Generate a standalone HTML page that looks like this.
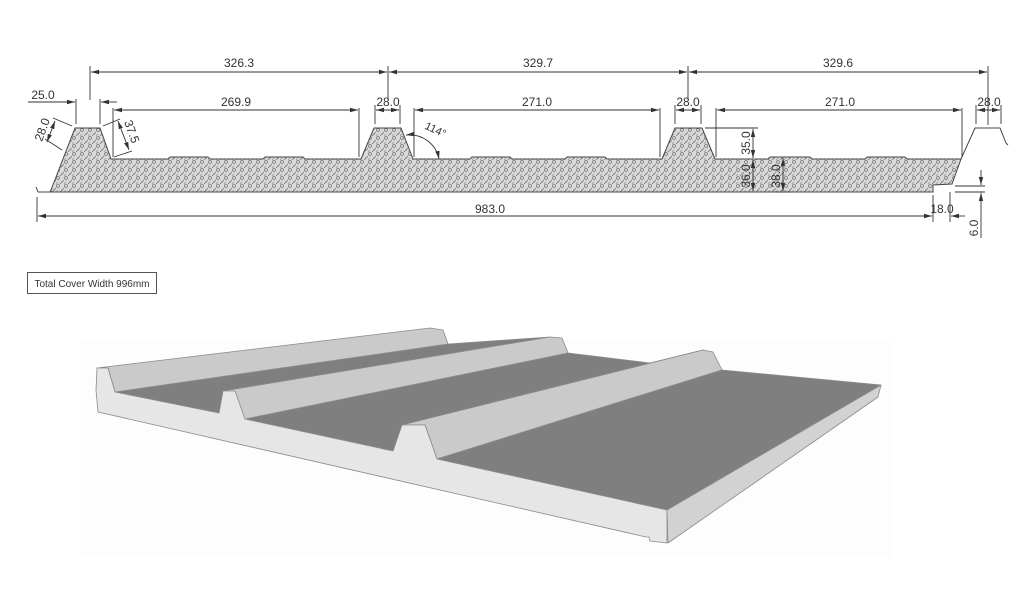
<!DOCTYPE html>
<html><head><meta charset="utf-8"><style>
html,body{margin:0;padding:0;background:#fff;}
svg{display:block}
text{font-family:"Liberation Sans",sans-serif;fill:#333;}
</style></head><body>
<svg width="1022" height="592" viewBox="0 0 1022 592" xmlns="http://www.w3.org/2000/svg">
<defs>
<pattern id="foam" width="8" height="8" patternUnits="userSpaceOnUse">
<rect width="8" height="8" fill="#dadada"/>
<circle cx="2" cy="2" r="1.5" fill="none" stroke="#777" stroke-width="0.8"/>
<line x1="4" y1="8" x2="8" y2="4" stroke="#777" stroke-width="0.8"/>
<line x1="0" y1="8" x2="2" y2="6" stroke="#888" stroke-width="0.6"/>
<circle cx="6" cy="6" r="0.7" fill="#888"/>
</pattern>
<marker id="a" markerWidth="8" markerHeight="6" refX="8" refY="3" orient="auto-start-reverse" markerUnits="userSpaceOnUse">
<path d="M0,0.8 L8,3 L0,5.2 Z" fill="#333"/></marker>
</defs>

<path d="M51,190 L75,128 L100,128 L111,159 L168,159 L170,157 L208,157 L210,159 L263,159 L265,157 L303,157 L305,159 L361,159 L374,128 L401,128 L413,159 L470,159 L472,157 L510,157 L512,159 L565,159 L567,157 L605,157 L607,159 L662,159 L675,128 L702,128 L715,159 L768,159 L770,157 L810,157 L812,159 L865,159 L867,157 L905,157 L907,159 L961,159 L952,184 L933,185 L933,192 L51,192 Z" fill="url(#foam)" stroke="#444" stroke-width="1"/>
<path d="M961,159 L975,128 L1000,128 L1006,143 L1008,145" fill="none" stroke="#444" stroke-width="1"/>
<path d="M36,187 L38,192 L50,192 L52,188" fill="none" stroke="#444" stroke-width="1"/>

<g stroke="#333" stroke-width="0.9" fill="none">
<line x1="90" y1="66" x2="90" y2="100"/><line x1="388" y1="66" x2="388" y2="100"/>
<line x1="688" y1="66" x2="688" y2="100"/><line x1="988" y1="66" x2="988" y2="125"/>
<line x1="91" y1="72" x2="387" y2="72" marker-start="url(#a)" marker-end="url(#a)"/>
<line x1="389" y1="72" x2="687" y2="72" marker-start="url(#a)" marker-end="url(#a)"/>
<line x1="689" y1="72" x2="987" y2="72" marker-start="url(#a)" marker-end="url(#a)"/>
<line x1="76" y1="99" x2="76" y2="124"/><line x1="100" y1="99" x2="100" y2="124"/>
<line x1="28" y1="102" x2="75" y2="102" marker-end="url(#a)"/>
<line x1="117" y1="102" x2="101" y2="102" marker-end="url(#a)"/>
<line x1="113" y1="108" x2="113" y2="157"/><line x1="359" y1="108" x2="359" y2="157"/>
<line x1="114" y1="110" x2="358" y2="110" marker-start="url(#a)" marker-end="url(#a)"/>
<line x1="375" y1="105" x2="375" y2="124"/><line x1="400" y1="105" x2="400" y2="124"/>
<line x1="376" y1="110" x2="399" y2="110" marker-start="url(#a)" marker-end="url(#a)"/>
<line x1="675" y1="105" x2="675" y2="124"/><line x1="701" y1="105" x2="701" y2="124"/>
<line x1="676" y1="110" x2="700" y2="110" marker-start="url(#a)" marker-end="url(#a)"/>
<line x1="976" y1="105" x2="976" y2="124"/><line x1="1001" y1="105" x2="1001" y2="124"/>
<line x1="977" y1="110" x2="1000" y2="110" marker-start="url(#a)" marker-end="url(#a)"/>
<line x1="414" y1="108" x2="414" y2="157"/><line x1="660" y1="108" x2="660" y2="157"/>
<line x1="415" y1="110" x2="659" y2="110" marker-start="url(#a)" marker-end="url(#a)"/>
<line x1="716" y1="108" x2="716" y2="157"/><line x1="962" y1="108" x2="962" y2="157"/>
<line x1="717" y1="110" x2="961" y2="110" marker-start="url(#a)" marker-end="url(#a)"/>
<line x1="53" y1="118" x2="72" y2="126"/><line x1="45" y1="139" x2="62" y2="150"/>
<line x1="55" y1="121" x2="47" y2="142" marker-start="url(#a)" marker-end="url(#a)"/>
<line x1="103" y1="126" x2="120" y2="119"/><line x1="114" y1="157" x2="132" y2="151"/>
<line x1="118" y1="121" x2="129" y2="150" marker-start="url(#a)" marker-end="url(#a)"/>
<path d="M406,135 A30,30 0 0 1 439,159" marker-start="url(#a)" marker-end="url(#a)"/>
<line x1="705" y1="128" x2="758" y2="128"/>
<line x1="753" y1="129" x2="753" y2="158" marker-start="url(#a)" marker-end="url(#a)"/>
<line x1="753" y1="160" x2="753" y2="191" marker-start="url(#a)" marker-end="url(#a)"/>
<line x1="783" y1="158" x2="783" y2="191" marker-start="url(#a)" marker-end="url(#a)"/>
<line x1="775" y1="192" x2="790" y2="192"/>
<line x1="37" y1="197" x2="37" y2="222"/><line x1="933" y1="195" x2="933" y2="222"/>
<line x1="38" y1="216" x2="932" y2="216" marker-start="url(#a)" marker-end="url(#a)"/>
<line x1="950" y1="192" x2="950" y2="222"/>
<line x1="965" y1="216" x2="951" y2="216" marker-end="url(#a)"/>
<line x1="955" y1="186" x2="985" y2="186"/><line x1="955" y1="192" x2="985" y2="192"/>
<line x1="981" y1="170" x2="981" y2="185" marker-end="url(#a)"/>
<line x1="981" y1="238" x2="981" y2="193" marker-end="url(#a)"/>
</g>
<g font-size="12">
<text x="239" y="67" text-anchor="middle">326.3</text>
<text x="538" y="67" text-anchor="middle">329.7</text>
<text x="838" y="67" text-anchor="middle">329.6</text>
<text x="43" y="99" text-anchor="middle">25.0</text>
<text x="236" y="106" text-anchor="middle">269.9</text>
<text x="388" y="106" text-anchor="middle">28.0</text>
<text x="537" y="106" text-anchor="middle">271.0</text>
<text x="688" y="106" text-anchor="middle">28.0</text>
<text x="840" y="106" text-anchor="middle">271.0</text>
<text x="989" y="106" text-anchor="middle">28.0</text>
<text x="0" y="0" text-anchor="middle" transform="translate(46,131) rotate(-70)">28.0</text>
<text x="0" y="0" text-anchor="middle" transform="translate(128,133) rotate(70)">37.5</text>
<text x="0" y="0" text-anchor="middle" font-size="11" transform="translate(434,133) rotate(25)">114°</text>
<text x="0" y="0" text-anchor="middle" transform="translate(750,143) rotate(-90)">35.0</text>
<text x="0" y="0" text-anchor="middle" transform="translate(750,176) rotate(-90)">36.0</text>
<text x="0" y="0" text-anchor="middle" transform="translate(780,176) rotate(-90)">38.0</text>
<text x="490" y="213" text-anchor="middle">983.0</text>
<text x="942" y="213" text-anchor="middle">18.0</text>
<text x="0" y="0" text-anchor="middle" transform="translate(978,228) rotate(-90)">6.0</text>
</g>

<rect x="27.5" y="272.5" width="129" height="21" fill="#fff" stroke="#555" stroke-width="1"/>
<text x="92" y="287" font-size="10" text-anchor="middle" fill="#222">Total Cover Width 996mm</text>

<rect x="80" y="340" width="812" height="218" fill="#fdfdfd"/>
<g stroke="#8a8a8a" stroke-width="0.8" stroke-linejoin="round">
<polygon points="115,392 448,344 550,337 219,413" fill="#7f7f7f"/>
<polygon points="97,368 430,328 443,330 448,344 115,392 108,368" fill="#cacaca"/>
<polygon points="245,419 568,353 650,363 703,350 402,425 393,451" fill="#7f7f7f"/>
<polygon points="219,413 223,391 550,337 562,338 568,353 245,419" fill="#cacaca"/>
<polygon points="402,425 703,350 713,352 722,370 437,459 425,425" fill="#cacaca"/>
<polygon points="437,459 722,370 881,385 667,510" fill="#7f7f7f"/>
<polygon points="97,368 108,368 115,392 219,413 223,391 235,391 245,419 393,451 402,425 425,425 437,459 667,510 667,543 650,541 649,537 646,537 98,412 96,390" fill="#e6e6e6"/>
<polygon points="667,510 881,385 878,397 668,543" fill="#d2d2d2"/>
</g>
</svg>
</body></html>
